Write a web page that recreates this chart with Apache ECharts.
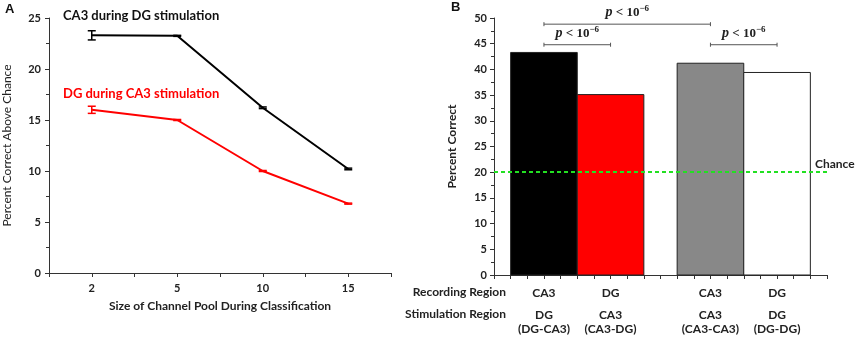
<!DOCTYPE html>
<html>
<head>
<meta charset="utf-8">
<script src="https://cdn.jsdelivr.net/npm/echarts@6/dist/echarts.min.js"></script>
<style>
  html, body { margin: 0; padding: 0; background: #fff; }
  #chart { width: 856px; height: 339px; }
</style>
</head>
<body>
<div id="chart"></div>
<script>
// panel A: decoding vs channel pool size
const poolSizes = ['2', '5', '10', '15']
const ca3DuringDG = [23.3, 23.25, 16.2, 10.2]
const ca3Err = [0.45, 0.05, 0.08, 0.08]
const dgDuringCA3 = [16.0, 15.0, 10.0, 6.8]
const dgErr = [0.35, 0.05, 0.05, 0.05]

// panel B: percent correct per recording / stimulation pair
const barSlots = [3, 7, 13, 17]           // x on the 0..20 axis
const barValues = [43.3, 35.1, 41.2, 39.4]
const barColors = ['#000000', '#ff0000', '#888888', '#ffffff']
const recordingRegion = ['CA3', 'DG', 'CA3', 'DG']
const stimRegion = ['DG', 'CA3', 'CA3', 'DG']
const stimPair = ['(DG-CA3)', '(CA3-DG)', '(CA3-CA3)', '(DG-DG)']
const chanceLevel = 20
// significance brackets: [from slot, to slot, y]
const brackets = [[3, 13, 48.8], [3, 7, 44.8], [13, 17, 44.8]]

const FONT = 'Lato, "Open Sans", sans-serif'
const tickFont = { fontFamily: FONT, fontWeight: 'bold', fontSize: 11, color: '#222' }

const chart = echarts.init(document.getElementById('chart'))

const axisCommon = {
  axisLine: { show: true, lineStyle: { color: '#333', width: 1 } },
  axisTick: { show: true, length: 4, lineStyle: { color: '#333' } },
  splitLine: { show: false }
}

function errorBar (params, api) {
  const x = api.value(0)
  const lo = api.coord([x, api.value(1)])
  const hi = api.coord([x, api.value(2)])
  const color = api.visual('color')
  const w = 4
  return {
    type: 'group',
    children: [
      { type: 'line', shape: { x1: lo[0], y1: lo[1], x2: hi[0], y2: hi[1] }, style: { stroke: color, lineWidth: 1.5 } },
      { type: 'line', shape: { x1: lo[0] - w, y1: lo[1], x2: lo[0] + w, y2: lo[1] }, style: { stroke: color, lineWidth: 1.5 } },
      { type: 'line', shape: { x1: hi[0] - w, y1: hi[1], x2: hi[0] + w, y2: hi[1] }, style: { stroke: color, lineWidth: 1.5 } }
    ]
  }
}

function pLabel () {
  return '{p|p} {n|< 10}{s|−6}'
}
const pRich = {
  p: { fontFamily: '"Liberation Serif", serif', fontStyle: 'italic', fontWeight: 'bold', fontSize: 14, fill: '#222' },
  n: { fontFamily: '"Liberation Serif", serif', fontWeight: 'bold', fontSize: 13, fill: '#222' },
  s: { fontFamily: '"Liberation Serif", serif', fontWeight: 'bold', fontSize: 9, fill: '#222', verticalAlign: 'top', padding: [0, 0, 8, 0] }
}

const option = {
  backgroundColor: '#fff',
  animation: false,
  grid: [
    { left: 47, right: 465, top: 18, bottom: 66 },
    { left: 494, right: 29, top: 18, bottom: 64 }
  ],
  xAxis: [
    Object.assign({}, axisCommon, {
      gridIndex: 0, type: 'value', min: 0.5, max: 4.5, interval: 0.5,
      name: 'Size of Channel Pool During Classification',
      nameLocation: 'middle', nameGap: 27,
      nameTextStyle: { fontFamily: FONT, fontWeight: 'bold', fontSize: 12, color: '#222' },
      axisLabel: Object.assign({}, tickFont, {
        margin: 10,
        formatter: v => Number.isInteger(v) ? poolSizes[v - 1] : ''
      })
    }),
    Object.assign({}, axisCommon, {
      gridIndex: 1, type: 'value', min: 0, max: 20, interval: 1,
      axisLabel: {
        margin: 10,
        formatter: v => {
          const i = barSlots.indexOf(v)
          if (i < 0) return ''
          return '{a|' + recordingRegion[i] + '}\n{g| }\n{b|' + stimRegion[i] + '}\n{c|' + stimPair[i] + '}'
        },
        rich: {
          a: Object.assign({}, tickFont, { fontSize: 12, lineHeight: 16 }),
          g: Object.assign({}, tickFont, { fontSize: 6, lineHeight: 7 }),
          b: Object.assign({}, tickFont, { fontSize: 12, lineHeight: 14 }),
          c: Object.assign({}, tickFont, { fontSize: 12, lineHeight: 14 })
        }
      }
    })
  ],
  yAxis: [
    Object.assign({}, axisCommon, {
      gridIndex: 0, type: 'value', min: 0, max: 25, interval: 5,
      minorTick: { show: true, splitNumber: 2, length: 3, lineStyle: { color: '#333' } },
      name: 'Percent Correct Above Chance', nameLocation: 'middle', nameGap: 36,
      nameTextStyle: { fontFamily: FONT, fontSize: 12, color: '#222' },
      axisLabel: Object.assign({}, tickFont, { margin: 8 })
    }),
    Object.assign({}, axisCommon, {
      gridIndex: 1, type: 'value', min: 0, max: 50, interval: 5,
      minorTick: { show: true, splitNumber: 2, length: 3, lineStyle: { color: '#333' } },
      name: 'Percent Correct', nameLocation: 'middle', nameGap: 36,
      nameTextStyle: { fontFamily: FONT, fontWeight: 'bold', fontSize: 12, color: '#222' },
      axisLabel: Object.assign({}, tickFont, { margin: 7 })
    })
  ],
  series: [
    {
      type: 'line', xAxisIndex: 0, yAxisIndex: 0, z: 3,
      data: ca3DuringDG.map((v, i) => [i + 1, v]),
      symbol: 'none', lineStyle: { color: '#000', width: 2 }, itemStyle: { color: '#000' }
    },
    {
      type: 'line', xAxisIndex: 0, yAxisIndex: 0, z: 3,
      data: dgDuringCA3.map((v, i) => [i + 1, v]),
      symbol: 'none', lineStyle: { color: '#ff0000', width: 2 }, itemStyle: { color: '#ff0000' }
    },
    {
      type: 'custom', xAxisIndex: 0, yAxisIndex: 0, z: 4,
      itemStyle: { color: '#000' },
      renderItem: errorBar,
      data: ca3DuringDG.map((v, i) => [i + 1, v - ca3Err[i], v + ca3Err[i]])
    },
    {
      type: 'custom', xAxisIndex: 0, yAxisIndex: 0, z: 4,
      itemStyle: { color: '#ff0000' },
      renderItem: errorBar,
      data: dgDuringCA3.map((v, i) => [i + 1, v - dgErr[i], v + dgErr[i]])
    },
    {
      type: 'custom', xAxisIndex: 1, yAxisIndex: 1, z: 2,
      renderItem: (params, api) => {
        const x = api.value(0)
        const p0 = api.coord([x - 2, 0])
        const p1 = api.coord([x + 2, api.value(1)])
        return {
          type: 'rect',
          shape: { x: p0[0], y: p1[1], width: p1[0] - p0[0], height: p0[1] - p1[1] },
          style: { fill: barColors[params.dataIndex], stroke: '#222', lineWidth: 1 }
        }
      },
      data: barValues.map((v, i) => [barSlots[i], v]),
      markLine: {
        silent: true, symbol: 'none',
        lineStyle: { color: '#22e022', type: [4, 3], width: 2 },
        label: {
          position: 'end', formatter: 'Chance', distance: 0,
          offset: [-12, -8],
          fontFamily: FONT, fontWeight: 'bold', fontSize: 12, color: '#222'
        },
        data: [{ yAxis: chanceLevel }]
      }
    },
    {
      type: 'custom', xAxisIndex: 1, yAxisIndex: 1, z: 5,
      renderItem: (params, api) => {
        const a = api.coord([api.value(0), api.value(2)])
        const b = api.coord([api.value(1), api.value(2)])
        const st = { stroke: '#555', lineWidth: 1 }
        return {
          type: 'group',
          children: [
            { type: 'line', shape: { x1: a[0], y1: a[1], x2: b[0], y2: b[1] }, style: st },
            { type: 'line', shape: { x1: a[0], y1: a[1] - 2, x2: a[0], y2: a[1] + 2 }, style: st },
            { type: 'line', shape: { x1: b[0], y1: b[1] - 2, x2: b[0], y2: b[1] + 2 }, style: st },
            {
              type: 'text',
              style: {
                text: pLabel(), rich: pRich,
                x: (a[0] + b[0]) / 2, y: a[1] - 3,
                align: 'center', verticalAlign: 'bottom'
              }
            }
          ]
        }
      },
      data: brackets
    }
  ],
  graphic: [
    { type: 'text', left: 5, top: 3, style: { text: 'A', font: 'bold 13px "Liberation Sans", sans-serif', fill: '#111' } },
    { type: 'text', left: 451, top: 1, style: { text: 'B', font: 'bold 13px "Liberation Sans", sans-serif', fill: '#111' } },
    { type: 'text', left: 63, top: 9, style: { text: 'CA3 during DG stimulation', font: 'bold 13px ' + FONT, fill: '#111' } },
    { type: 'text', left: 63, top: 87, style: { text: 'DG during CA3 stimulation', font: 'bold 13px ' + FONT, fill: '#ff0000' } },
    { type: 'text', right: 350, top: 286, style: { text: 'Recording Region', font: 'bold 12px ' + FONT, fill: '#222', align: 'right' } },
    { type: 'text', right: 350, top: 308, style: { text: 'Stimulation Region', font: 'bold 12px ' + FONT, fill: '#222', align: 'right' } }
  ]
}

chart.setOption(option)
</script>
</body>
</html>
